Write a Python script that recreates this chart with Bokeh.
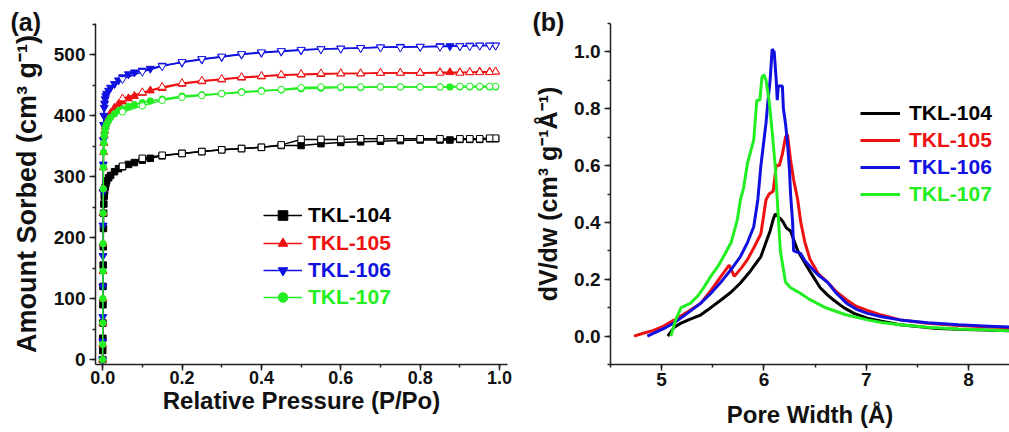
from bokeh.plotting import figure
from bokeh.models import (ColumnDataSource, Legend, LegendItem,
                          SingleIntervalTicker, PrintfTickFormatter, Range1d)
from bokeh.layouts import row
from bokeh.embed import file_html
from bokeh.resources import INLINE

# ---------------- data ----------------
SERIES = ["TKL-104", "TKL-105", "TKL-106", "TKL-107"]
COLORS = ["#000000", "#ee1111", "#1010e0", "#22ee22"]
MARKERS = ["square", "triangle", "inverted_triangle", "circle"]

# (a) N2 isotherms: adsorption branch
P_ADS = [0.0, 0.0002, 0.0004, 0.0006, 0.0008, 0.001, 0.0013, 0.0016, 0.002, 0.0025,
         0.003, 0.004, 0.005, 0.0065, 0.008, 0.01, 0.015, 0.02, 0.03, 0.04, 0.05,
         0.065, 0.08, 0.1, 0.12, 0.15, 0.2, 0.25, 0.3, 0.35, 0.4, 0.45, 0.5, 0.55,
         0.6, 0.65, 0.7, 0.75, 0.8, 0.85, 0.875, 0.9, 0.925, 0.95, 0.975, 0.99]
ADS_104 = [0, 15, 35, 60, 90, 120, 155, 185, 215, 240, 255, 268, 276, 283, 288, 293,
           298, 302, 308, 313, 316, 320, 323, 327, 330, 334, 338, 341, 344, 346, 348,
           351, 351, 354, 356, 357, 358, 359, 360, 360, 360, 361, 361, 361, 362, 362]
ADS_105 = [0, 25, 60, 100, 145, 190, 240, 280, 315, 340, 355, 368, 375, 382, 386, 391,
           397, 404, 413, 419, 423, 428, 432, 437, 441, 445, 452, 456, 459, 462, 464,
           466, 467, 468, 469, 469, 470, 470, 470, 471, 471, 471, 471, 472, 472, 472]
ADS_106 = [0, 30, 70, 120, 170, 220, 275, 320, 360, 385, 400, 413, 420, 427, 432, 436,
           441, 446, 452, 458, 463, 468, 471, 474, 477, 482, 487, 492, 496, 500, 503,
           505, 507, 509, 510, 511, 512, 513, 513, 514, 514, 514, 515, 515, 515, 515]
ADS_107 = [0, 25, 60, 100, 145, 190, 240, 280, 315, 340, 355, 366, 372, 378, 382, 386,
           392, 397, 403, 408, 411, 415, 418, 421, 424, 427, 432, 434, 436, 439, 441,
           442, 444, 445, 446, 446, 447, 447, 447, 447, 447, 447, 447, 447, 447, 447]

# (a) desorption branch
P_DES = [0.99, 0.975, 0.95, 0.925, 0.9, 0.85, 0.8, 0.75, 0.7, 0.65, 0.6, 0.55, 0.5,
         0.45, 0.4, 0.35, 0.3, 0.25, 0.2, 0.15, 0.1, 0.05]
DES_104 = [363, 363, 362, 362, 362, 362, 362, 362, 362, 362, 361, 361, 361, 352, 348,
           346, 344, 341, 338, 335, 330, 317]
DES_105 = [472, 471, 471, 471, 470, 470, 470, 470, 470, 469, 469, 469, 468, 467, 465,
           463, 460, 457, 453, 447, 438, 428]
DES_106 = [515, 515, 515, 514, 514, 513, 513, 512, 512, 511, 510, 509, 508, 506, 504,
           501, 497, 493, 488, 481, 472, 460]
DES_107 = [448, 448, 448, 448, 448, 447, 447, 447, 447, 447, 447, 447, 446, 443, 440,
           438, 436, 433, 430, 425, 416, 406]

# (b) pore size distributions
W_104 = [5.06, 5.12, 5.19, 5.28, 5.38, 5.48, 5.58, 5.68, 5.77, 5.87, 5.97, 6.02, 6.06,
         6.09, 6.11, 6.14, 6.17, 6.19, 6.22, 6.26, 6.29, 6.33, 6.38, 6.42, 6.48, 6.55,
         6.62, 6.68, 6.78, 6.88, 7.01, 7.15, 7.33, 7.5, 7.65, 7.9, 8.15, 8.5]
V_104 = [0.0, 0.03, 0.046, 0.06, 0.074, 0.10, 0.127, 0.155, 0.187, 0.23, 0.28, 0.33,
         0.37, 0.41, 0.43, 0.42, 0.41, 0.40, 0.38, 0.37, 0.34, 0.30, 0.27, 0.245, 0.21,
         0.17, 0.145, 0.127, 0.10, 0.08, 0.063, 0.052, 0.04, 0.034, 0.028, 0.024,
         0.021, 0.018]
W_105 = [4.73, 4.82, 4.92, 5.02, 5.12, 5.25, 5.38, 5.48, 5.58, 5.66, 5.71, 5.78, 5.84,
         5.90, 5.97, 6.02, 6.05, 6.09, 6.12, 6.15, 6.18, 6.21, 6.23, 6.25, 6.26, 6.29,
         6.33, 6.36, 6.40, 6.45, 6.53, 6.62, 6.71, 6.81, 6.9, 7.01, 7.15, 7.33, 7.6,
         7.9, 8.2, 8.5]
V_105 = [0.0, 0.01, 0.02, 0.035, 0.056, 0.085, 0.115, 0.16, 0.21, 0.25, 0.21, 0.24,
         0.27, 0.31, 0.36, 0.48, 0.50, 0.51, 0.60, 0.60, 0.64, 0.70, 0.71, 0.65, 0.62,
         0.55, 0.48, 0.40, 0.33, 0.27, 0.22, 0.19, 0.155, 0.127, 0.105, 0.09, 0.074,
         0.057, 0.045, 0.037, 0.032, 0.028]
W_106 = [4.86, 4.95, 5.04, 5.12, 5.25, 5.38, 5.48, 5.58, 5.68, 5.77, 5.84, 5.90, 5.94,
         5.97, 6.0, 6.02, 6.04, 6.06, 6.08, 6.10, 6.12, 6.13, 6.14, 6.16, 6.18, 6.19,
         6.21, 6.23, 6.25, 6.26, 6.28, 6.29, 6.33, 6.36, 6.40, 6.45, 6.53, 6.62, 6.71,
         6.81, 6.9, 7.01, 7.15, 7.33, 7.6, 7.9, 8.2, 8.5]
V_106 = [0.0, 0.015, 0.03, 0.046, 0.08, 0.115, 0.15, 0.19, 0.235, 0.28, 0.33, 0.385,
         0.48, 0.60, 0.69, 0.75, 0.83, 0.90, 1.01, 1.0, 0.90, 0.83, 0.88, 0.88, 0.88,
         0.80, 0.75, 0.68, 0.58, 0.50, 0.40, 0.30, 0.295, 0.29, 0.265, 0.245, 0.215,
         0.19, 0.15, 0.115, 0.095, 0.08, 0.068, 0.057, 0.047, 0.04, 0.035, 0.03]
W_107 = [5.09, 5.14, 5.19, 5.28, 5.35, 5.41, 5.48, 5.55, 5.62, 5.68, 5.74, 5.77, 5.80,
         5.84, 5.87, 5.90, 5.93, 5.96, 5.98, 6.0, 6.02, 6.05, 6.08, 6.11, 6.13, 6.16,
         6.21, 6.26, 6.31, 6.36, 6.44, 6.52, 6.6, 6.68, 6.8, 7.01, 7.15, 7.33, 7.6,
         7.9, 8.2, 8.5]
V_107 = [0.0, 0.06, 0.10, 0.115, 0.14, 0.17, 0.21, 0.245, 0.29, 0.33, 0.41, 0.48, 0.52,
         0.61, 0.65, 0.69, 0.83, 0.83, 0.91, 0.92, 0.90, 0.83, 0.72, 0.60, 0.48, 0.30,
         0.19, 0.17, 0.16, 0.15, 0.13, 0.115, 0.10, 0.09, 0.075, 0.057, 0.048, 0.04,
         0.031, 0.025, 0.021, 0.018]

ADS = [ADS_104, ADS_105, ADS_106, ADS_107]
DES = [DES_104, DES_105, DES_106, DES_107]
PSD_W = [W_104, W_105, W_106, W_107]
PSD_V = [V_104, V_105, V_106, V_107]

FONT = "Liberation Sans"


def style(p, xlab, ylab):
    p.outline_line_color = None
    p.xgrid.visible = False
    p.ygrid.visible = False
    p.xaxis.axis_label = xlab
    p.yaxis.axis_label = ylab
    for ax in (p.xaxis[0], p.yaxis[0]):
        ax.axis_line_width = 1.5
        ax.axis_line_color = "#222222"
        ax.major_tick_line_color = "#222222"
        ax.minor_tick_line_color = "#222222"
        ax.major_tick_line_width = 1.5
        ax.minor_tick_line_width = 1.5
        ax.major_tick_out = 6
        ax.major_tick_in = 0
        ax.minor_tick_out = 3
        ax.minor_tick_in = 0
        ax.major_label_text_font = FONT
        ax.major_label_text_font_style = "bold"
        ax.major_label_text_font_size = "19px"
        ax.major_label_text_color = "#111111"
        ax.axis_label_text_font = FONT
        ax.axis_label_text_font_style = "bold"
        ax.axis_label_text_color = "#111111"
    p.xaxis.major_label_standoff = 0
    p.xaxis.axis_label_standoff = 0
    p.xaxis.axis_label_text_font_size = "24px"
    p.yaxis.major_label_standoff = 4
    p.yaxis.axis_label_standoff = 9
    p.yaxis.axis_label_text_font_size = "27px"
    # panel tag "(a)" / "(b)" drawn as the plot title, at the top-left corner
    p.title.align = "left"
    p.title.text_font = FONT
    p.title.text_font_style = "bold"
    p.title.text_font_size = "25px"
    p.title.text_color = "#111111"
    p.title.standoff = -24


def add_legend(p, renderers, label, color, x, y, gw, standoff):
    lg = Legend(items=[LegendItem(label=label, renderers=renderers)],
                location=(x, y), padding=0, margin=0, spacing=0,
                glyph_width=gw, glyph_height=24, label_height=24,
                label_standoff=standoff,
                label_text_font=FONT, label_text_font_style="bold",
                label_text_font_size="21px", label_text_color=color,
                border_line_color=None, background_fill_alpha=0)
    p.add_layout(lg)


# ---------------- panel (a) ----------------
pa = figure(width=520, height=432, x_range=Range1d(-0.018, 1.02),
            y_range=Range1d(-8, 551), output_backend="svg", toolbar_location=None,
            min_border_left=95, min_border_right=13, min_border_top=23,
            min_border_bottom=68, title="(a)")
style(pa, "Relative Pressure (P/Po)", "Amount Sorbed (cm³ g⁻¹)")
pa.title.offset = -85
pa.xaxis.major_label_text_font_size = "18px"
pa.xaxis.ticker = SingleIntervalTicker(interval=0.2, num_minor_ticks=2)
pa.yaxis.ticker = SingleIntervalTicker(interval=100, num_minor_ticks=2)
pa.xaxis.formatter = PrintfTickFormatter(format="%.1f")

legend_rows_a = [137, 109, 82, 55]
for i, name in enumerate(SERIES):
    c = COLORS[i]
    src_a = ColumnDataSource(dict(p=P_ADS, v=ADS[i]))
    src_d = ColumnDataSource(dict(p=P_DES, v=DES[i]))
    la = pa.line("p", "v", source=src_a, line_color=c, line_width=1.5)
    pa.line("p", "v", source=src_d, line_color=c, line_width=1.5)
    sz = 8 if "triangle" in MARKERS[i] else 6.5
    sa = pa.scatter("p", "v", source=src_a, marker=MARKERS[i], size=sz,
                    line_color=c, fill_color=c, line_width=1)
    pa.scatter("p", "v", source=src_d, marker=MARKERS[i], size=sz,
               line_color=c, fill_color="white", line_width=1)
    add_legend(pa, [la, sa], name, c, 168, legend_rows_a[i], 39, 6)

# ---------------- panel (b) ----------------
pb = figure(width=489, height=432, x_range=Range1d(4.5, 8.4),
            y_range=Range1d(-0.1, 1.1), output_backend="svg", toolbar_location=None,
            min_border_left=90, min_border_right=0, min_border_top=23,
            min_border_bottom=68, title="(b)")
style(pb, "Pore Width (Å)", "dV/dw (cm³ g⁻¹Å⁻¹)")
pb.title.offset = -78
pb.xaxis.ticker = SingleIntervalTicker(interval=1, num_minor_ticks=2)
pb.yaxis.ticker = SingleIntervalTicker(interval=0.2, num_minor_ticks=2)
pb.yaxis.formatter = PrintfTickFormatter(format="%.1f")
pb.yaxis.axis_label_text_font_size = "25px"
pb.xaxis.major_label_standoff = 2
pb.xaxis.axis_label_standoff = 12

legend_rows_b = [239, 212, 185, 158]
for i, name in enumerate(SERIES):
    c = COLORS[i]
    src = ColumnDataSource(dict(w=PSD_W[i], v=PSD_V[i]))
    lr = pb.line("w", "v", source=src, line_color=c, line_width=3)
    add_legend(pb, [lr], name, c, 250, legend_rows_b[i], 40, 9)

layout = row(pa, pb)
open("out.html", "w").write(file_html(layout, INLINE))
